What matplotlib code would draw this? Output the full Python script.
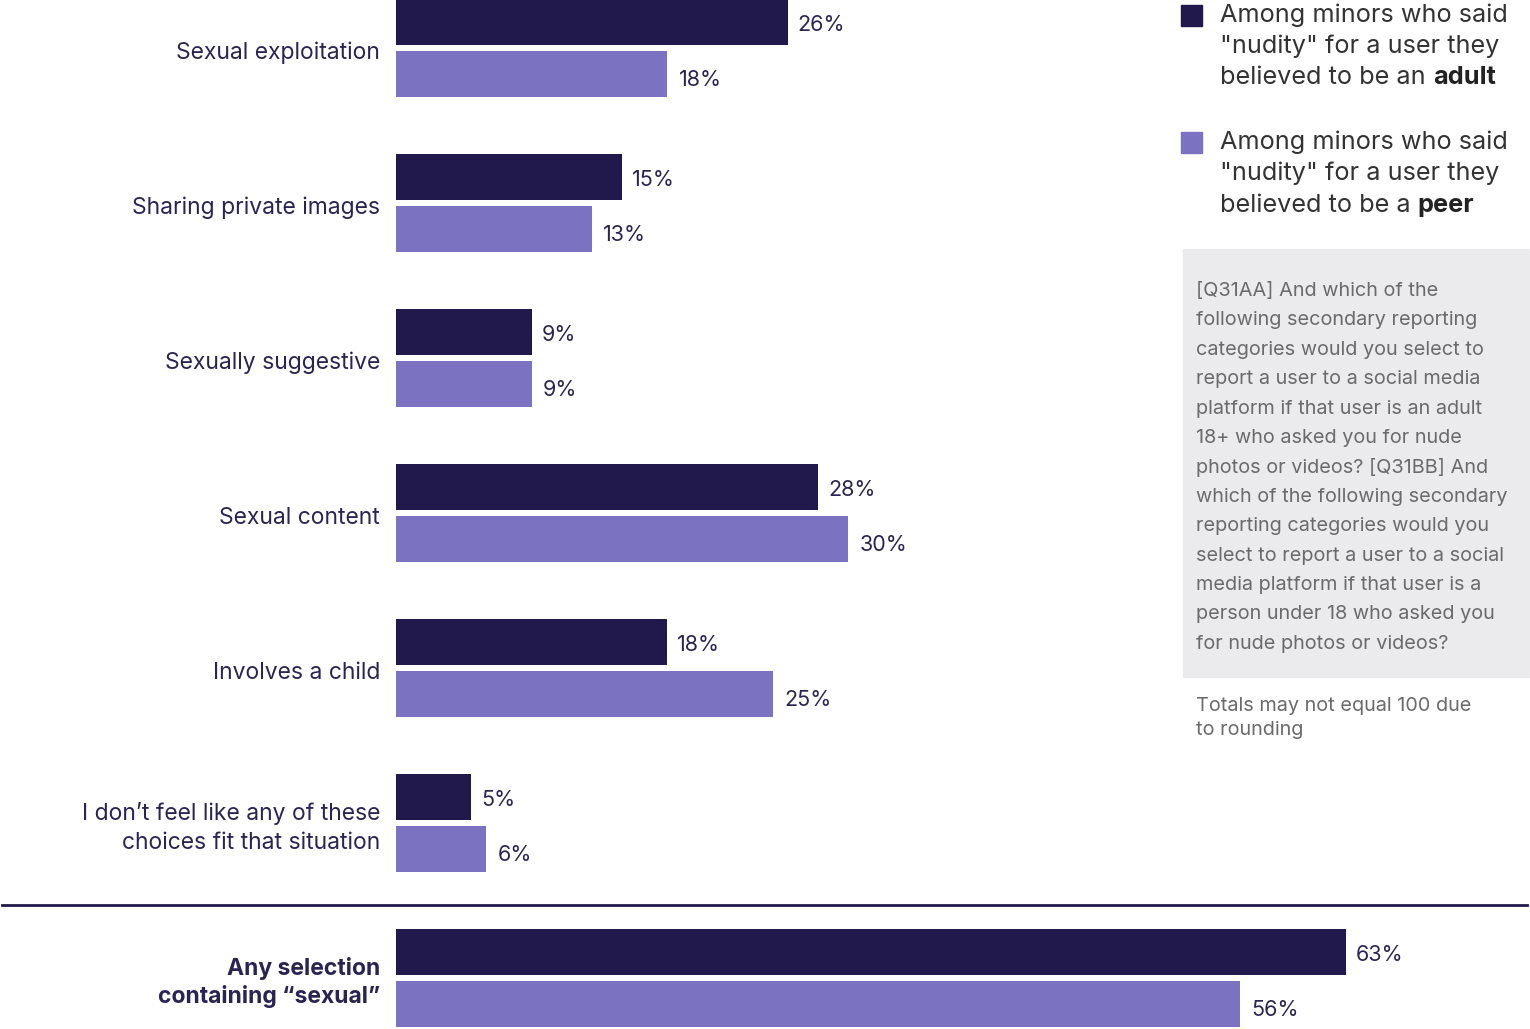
import numpy as np
import matplotlib.pyplot as plt
import matplotlib.patches as patches

plt.rcParams['font.family'] = ['Inter', 'DejaVu Sans']

# survey results, percent of minors choosing each reporting category
categories = ["Sexual exploitation", "Sharing private images", "Sexually suggestive",
              "Sexual content", "Involves a child",
              "I don\u2019t feel like any of these\nchoices fit that situation",
              "Any selection\ncontaining \u201csexual\u201d"]
adult = [26, 15, 9, 28, 18, 5, 63]
peer = [18, 13, 9, 30, 25, 6, 56]

dark = "#21184c"
light = "#7b72c2"
navy_text = "#2a2452"

W, H = 1530, 1029
fig = plt.figure(figsize=(W / 100, H / 100), dpi=100)
ax = fig.add_axes([0, 0, 1, 1])

px = 15.08  # pixels per percent
x0 = 396
ax.set_xlim(-x0 / px, (W - x0) / px)
ax.set_ylim((H - 48) / 155, -48 / 155)
ax.axis("off")

pos = np.arange(len(categories))
off = 26 / 155
hgt = 46 / 155
ax.barh(pos - off, adult, height=hgt, color=dark)
ax.barh(pos + off, peer, height=hgt, color=light)

for i, (a, p) in enumerate(zip(adult, peer)):
    ax.annotate(f"{a}%", (a, i - off), xytext=(7, -2), textcoords="offset points",
                ha="left", va="center", fontsize=15.5, color=navy_text)
    ax.annotate(f"{p}%", (p, i + off), xytext=(8, -4), textcoords="offset points",
                ha="left", va="center", fontsize=15.5, color=navy_text)

for i, c in enumerate(categories):
    last = i == len(categories) - 1
    ax.text(-16 / px, i + 0.03, c, ha="right", va="center",
            fontsize=16.5,
            color=navy_text, fontweight="bold" if last else "normal",
            linespacing=1.3 if last else 1.4)

# divider above the summary row
ax.plot([-394 / px, (W - 3 - x0) / px], [5.53, 5.53], color=dark, lw=2, clip_on=False)

# legend
def fx(x):
    return x / W

def fy(y):
    return 1 - y / H

leg = [(dark, "an ", "adult", 5), (light, "a ", "peer", 132)]
for col, art, word, top in leg:
    fig.patches.append(patches.Rectangle((fx(1181), fy(top + 21)), 21 / W, 21 / H,
                                         transform=fig.transFigure, color=col))
    fig.text(fx(1220), fy(top + 10), "Among minors who said", fontsize=18.2,
             color="#333333", va="center")
    fig.text(fx(1220), fy(top + 41), "\"nudity\" for a user they", fontsize=18.2,
             color="#333333", va="center")
    t = fig.text(fx(1220), fy(top + 73), "believed to be " + art, fontsize=18.2,
                 color="#333333", va="center")
    ax.annotate(word, xy=(1, 0.5), xycoords=t, va="center", ha="left",
                fontsize=18.2, fontweight="bold", color="#222222")

# question text box
fig.patches.append(patches.Rectangle((fx(1183), fy(677)), 346 / W, 428 / H,
                                     transform=fig.transFigure, color="#ebebed"))
note = ["[Q31AA] And which of the", "following secondary reporting",
        "categories would you select to", "report a user to a social media",
        "platform if that user is an adult", "18+ who asked you for nude",
        "photos or videos? [Q31BB] And", "which of the following secondary",
        "reporting categories would you", "select to report a user to a social",
        "media platform if that user is a", "person under 18 who asked you",
        "for nude photos or videos?"]
for k, line in enumerate(note):
    fig.text(fx(1196), fy(291 + 29.4 * k), line, fontsize=14.3, color="#6a6a6a", va="center")

fig.text(fx(1196), fy(706), "Totals may not equal 100 due", fontsize=14.3, color="#6a6a6a", va="center")
fig.text(fx(1196), fy(730), "to rounding", fontsize=14.3, color="#6a6a6a", va="center")

plt.savefig("out.png", dpi=100)
